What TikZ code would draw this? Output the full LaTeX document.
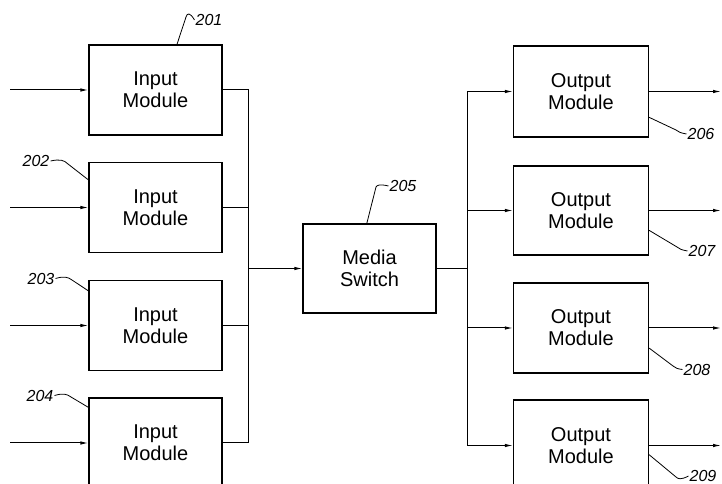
\documentclass[tikz,border=0pt]{standalone}
\usepackage{fontspec}
\setmainfont{Liberation Sans}
\usetikzlibrary{arrows.meta,calc}
\begin{document}
\begin{tikzpicture}[x=1pt,y=1pt,
  modbox/.style={draw,line width=1.3pt,minimum width=133pt,minimum height=90pt,inner sep=0pt,align=center,font=\fontsize{20}{22}\selectfont},
  wire/.style={line width=1pt},
  arr/.style={line width=1pt,-{Latex[length=8pt,width=3.5pt]}},
  lead/.style={line width=0.8pt},
  reflab/.style={font=\fontsize{16}{18}\selectfont\itshape,inner sep=1pt}]
\useasboundingbox[fill=white] (0,0) rectangle (722,484);
% input modules
\node[modbox] (in1) at (155.5,394) {Input\\Module};
\node[modbox] (in2) at (155.5,276.5) {Input\\Module};
\node[modbox] (in3) at (155.5,158.5) {Input\\Module};
\node[modbox] (in4) at (155.5,41) {Input\\Module};
% switch
\node[modbox,minimum height=89pt] (sw) at (369.5,215.5) {Media\\Switch};
% output modules
\node[modbox,minimum width=135pt,minimum height=91pt] (out1) at (581,392.5) {Output\\Module};
\node[modbox,minimum width=135pt,minimum height=89pt] (out2) at (581,273.5) {Output\\Module};
\node[modbox,minimum width=135pt] (out3) at (581,156) {Output\\Module};
\node[modbox,minimum width=135pt,minimum height=91pt] (out4) at (581,38.5) {Output\\Module};
% input arrows
\foreach \i in {1,2,3,4}{
  \coordinate (src\i) at (10,0 |- in\i.west);
  \draw[arr] (src\i) -- (in\i.west);
}
% input bus
\coordinate (busL) at (248,0 |- sw.west);
\foreach \i in {1,2,3,4}{
  \draw[wire] (in\i.east) -| (busL);
}
\draw[arr] (busL) -- (sw.west);
% output bus
\coordinate (busR) at (467,0 |- sw.east);
\draw[wire] (sw.east) -- (busR);
\foreach \i in {1,2,3,4}{
  \draw[arr] (busR) |- (out\i.west);
  \coordinate (dst\i) at (721,0 |- out\i.east);
  \draw[arr] (out\i.east) -- (dst\i);
}
% reference labels
\node[reflab] (l201) at (209,464) {201};
\node[reflab] (l202) at (36,323) {202};
\node[reflab] (l203) at (41,205.5) {203};
\node[reflab] (l204) at (40,88.5) {204};
\node[reflab] (l205) at (403,298) {205};
\node[reflab] (l206) at (701,350) {206};
\node[reflab] (l207) at (702,233) {207};
\node[reflab] (l208) at (697,114.5) {208};
\node[reflab] (l209) at (703,8) {209};
% leaders
\draw[lead] ($(in1.north west)!0.66!(in1.north east)$) -- (186,467) .. controls (187,471) and (190,472) .. (l201.west);
\draw[lead] (l202.east) .. controls (60,325) and (64,324) .. (68,320) -- ($(in2.north west)+(0,-18)$);
\draw[lead] (l203.east) .. controls (64,208) and (68,207) .. (72,204) -- ($(in3.north west)+(0,-11)$);
\draw[lead] (l204.east) .. controls (63,91) and (67,90) .. (71,87) -- ($(in4.north west)+(0,-10)$);
\draw[lead] ($(sw.north west)!0.48!(sw.north east)$) -- (376,297) .. controls (377,299) and (380,300) .. (l205.west);
\draw[lead] ($(out1.north east)!0.78!(out1.south east)$) -- (676,354) .. controls (678,352) and (681,351) .. (l206.west);
\draw[lead] ($(out2.north east)!0.72!(out2.south east)$) -- (677,237) .. controls (679,235) and (682,234) .. (l207.west);
\draw[lead] ($(out3.north east)!0.72!(out3.south east)$) -- (673,118) .. controls (675,116) and (678,115) .. (l208.west);
\draw[lead] ($(out4.north east)!0.6!(out4.south east)$) -- (676,7) .. controls (678,5) and (681,4) .. (l209.west);
\end{tikzpicture}
\end{document}
